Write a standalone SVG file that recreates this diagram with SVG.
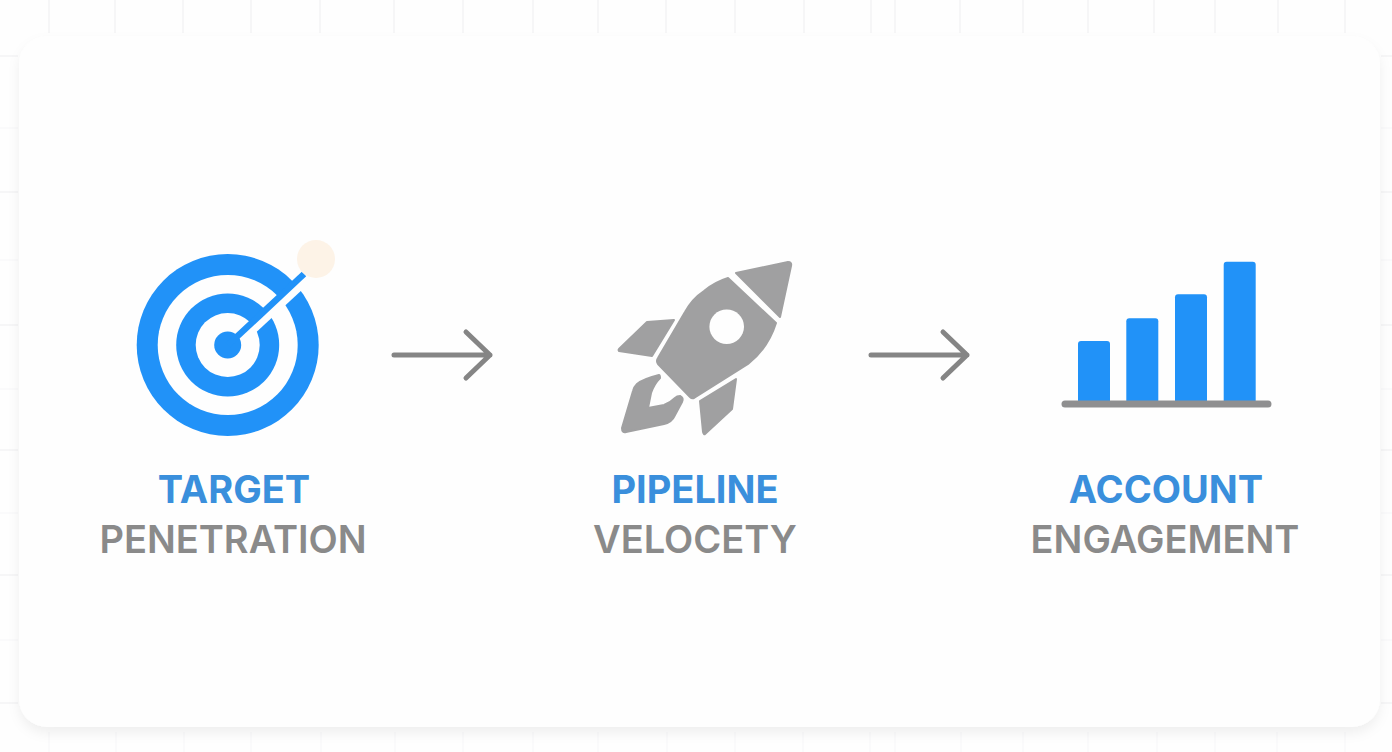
<svg xmlns="http://www.w3.org/2000/svg" width="1392" height="752" viewBox="0 0 1392 752">
<style>
.grid{stroke:#f6f6f7;stroke-width:2;fill:none}
.gridf{stroke:#f9f9fa;stroke-width:1.5;fill:none}
.blue{fill:#2192f8}
.gray{fill:#a0a0a1;stroke:#a0a0a1;stroke-width:2;stroke-linejoin:round}
.t1{font:700 38px Inter,"Liberation Sans",sans-serif;fill:#3a8fdc;text-anchor:middle}
.t2{font:600 38px Inter,"Liberation Sans",sans-serif;fill:#8a8a8a;text-anchor:middle}
.arrow{fill:none;stroke:#858585;stroke-width:5;stroke-linecap:round;stroke-linejoin:round}
</style>
<defs><filter id="sh" x="-5%" y="-5%" width="110%" height="110%"><feDropShadow dx="0" dy="6" stdDeviation="6" flood-color="#000" flood-opacity="0.06"/></filter></defs>
<rect width="1392" height="752" fill="#fefefe"/>
<g id="grid">
<path class="grid" d="M49 0V33M115 0V33M183 0V33M251 0V33M320 0V33M394 0V33M463 0V33M533 0V33M598 0V33M666 0V33M735 0V33M804 0V33M871 0V33M895 0V33M960 0V33M1023 0V33M1088 0V33M1154 0V33M1215 0V33M1278 0V33M1345 0V33"/>
<path class="grid" d="M0 56H18M0 192H18M0 325H18M0 450H18M0 575H18M0 703H18M1381 56H1392M1381 192H1392M1381 325H1392M1381 450H1392M1381 575H1392M1381 703H1392"/>
<path class="gridf" d="M0 128H18M0 260H18M0 389H18M0 513H18M0 640H18M1381 128H1392M1381 260H1392M1381 389H1392M1381 513H1392M1381 640H1392"/>
<path class="gridf" d="M49 732V752M116 732V752M184 732V752M251 732V752M321 732V752M395 732V752M463 732V752M533 732V752M598 732V752M667 732V752M735 732V752M803 732V752M870 732V752M895 732V752M961 732V752M1023 732V752M1088 732V752M1157 732V752M1215 732V752M1277 732V752M1345 732V752"/>
</g>
<rect id="card" x="19" y="36" width="1361" height="691" rx="28" fill="#fefefe" filter="url(#sh)"/>
<g id="target">
<circle cx="227.7" cy="345" r="91" class="blue"/>
<circle cx="227.7" cy="345" r="70" fill="#fefefe"/>
<circle cx="227.7" cy="345" r="51.5" class="blue"/>
<circle cx="227.7" cy="345" r="32" fill="#fefefe"/>
<path d="M243 337L309 276" stroke="#fefefe" stroke-width="11" fill="none"/>
<circle cx="227.7" cy="345" r="13.5" class="blue"/>
<path d="M228 345L304 274" stroke="#2192f8" stroke-width="6.5" fill="none"/>
<circle cx="316" cy="259" r="19" fill="#fdf3e7"/>
</g>
<text class="t1" x="234" y="503">TARGET</text>
<text class="t2" x="233" y="553">PENETRATION</text>
<g id="rocket">
<path class="gray" d="M728 278L776 323C771 339 762 353 748 364L694 398Q692 399 690 397L658 364Q656 361 658 358L685 312Q692 299 704 291Q715 282 728 278Z"/>
<circle cx="726.7" cy="326.7" r="17.3" fill="#fefefe"/>
<path class="gray" d="M736 273L788 262Q792 262 791 266L780 317Z"/>
<path class="gray" d="M647 322L674 320L652 356L619 351Q618 350 619 349Z"/>
<path class="gray" d="M736 379L732 409L705 434Q704 435 703 432L700 401Z"/>
<path class="gray" d="M659 375Q643 379 637 384Q634 387 633 391L622 428Q622 433 626 432L664 424Q672 422 675 415L682 402Q684 398 680 396Q677 396 675 398Q670 403 664 405L648 408L651 393Q654 384 660 378Q660 375 659 375Z"/>
</g>
<text class="t1" x="695" y="503">PIPELINE</text>
<text class="t2" x="695" y="553">VELOCETY</text>
<g id="chart">
<rect class="blue" x="1078" y="341" width="32" height="64" rx="3"/>
<rect class="blue" x="1126.3" y="318.3" width="32" height="86" rx="3"/>
<rect class="blue" x="1175" y="294.3" width="32" height="110" rx="3"/>
<rect class="blue" x="1223.7" y="261.7" width="32" height="143" rx="3"/>
<rect x="1061.5" y="400.5" width="210" height="7" rx="3.5" fill="#8f8f90"/>
</g>
<text class="t1" x="1166" y="503">ACCOUNT</text>
<text class="t2" x="1165" y="553">ENGAGEMENT</text>
<g id="connectors">
<path class="arrow" d="M394 355H490M466 332L490 355L466 378"/>
<path class="arrow" d="M871 355H967M943 332L967 355L943 378"/>
</g>
</svg>
